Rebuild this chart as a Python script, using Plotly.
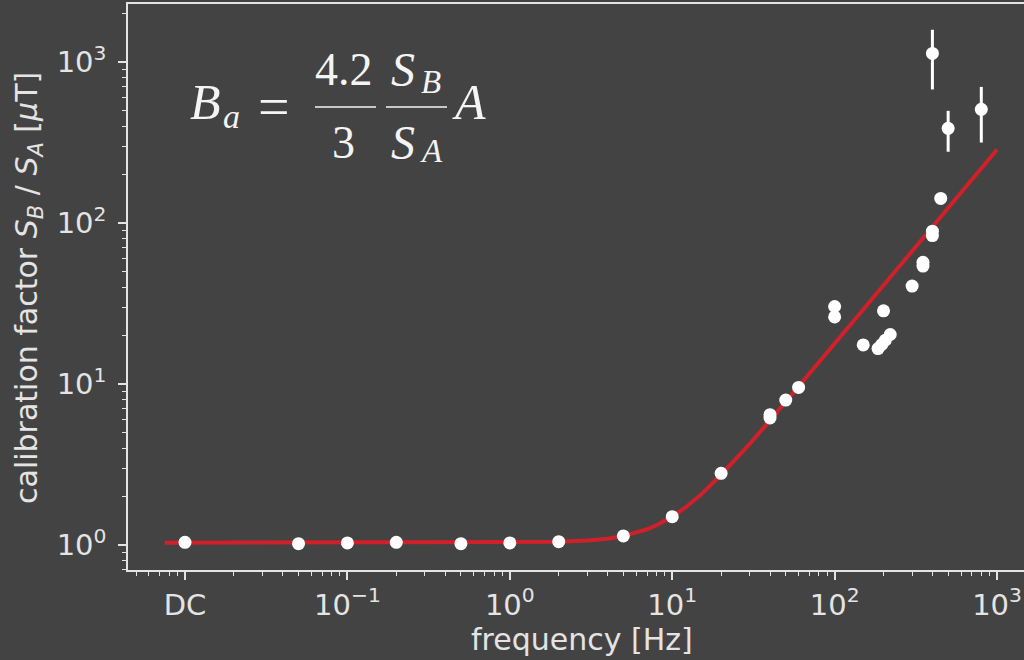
import plotly.graph_objects as go

# ---- measured calibration factor S_B / S_A (DC drawn at 0.01 Hz on the log axis) ----
DC_POS = 0.01
freq = [DC_POS, 0.05, 0.1, 0.2, 0.5, 1, 2, 5, 10, 20, 40, 40, 50, 60,
        100, 100, 150, 185, 195, 205, 220, 200, 300, 350, 350, 400, 400, 450,
        400, 500, 800]
factor = [1.04, 1.02, 1.03, 1.04, 1.02, 1.03, 1.05, 1.14, 1.50, 2.79, 6.15, 6.45, 7.95, 9.53,
          30.3, 26.1, 17.5, 16.6, 17.6, 18.7, 20.3, 28.5, 40.6, 57.0, 54.0, 89.0, 83.5, 142.0,
          1130.0, 387.0, 508.0]
factor_err = [0, 0, 0, 0, 0, 0, 0, 0, 0, 0, 0, 0, 0, 0,
              0, 0, 0, 0, 0, 0, 0, 0, 0, 0, 0, 0, 0, 0,
              455.0, 110.0, 192.0]

# ---- fitted model curve ----
model_freq = [0.0075, 0.01, 0.1, 1, 1.5, 2, 3, 4, 5, 6, 7, 8, 10, 12, 15, 20, 25, 30, 40, 50,
              70, 100, 150, 200, 300, 500, 700, 1000]
model_factor = [1.035, 1.035, 1.035, 1.037, 1.041, 1.047, 1.066, 1.095, 1.136, 1.189, 1.253,
                1.326, 1.50, 1.705, 2.05, 2.74, 3.45, 4.25, 5.95, 7.75, 11.6, 17.8, 29.0, 41.0,
                66.8, 123.8, 185.5, 286.0]

# ---- tick labels ----
x_tickvals = [DC_POS, 0.1, 1, 10, 100, 1000]
x_ticktext = ["DC", "10<sup>\u22121</sup>", "10<sup>0</sup>", "10<sup>1</sup>",
              "10<sup>2</sup>", "10<sup>3</sup>"]
y_tickvals = [1, 10, 100, 1000]
y_ticktext = ["10<sup>0</sup>", "10<sup>1</sup>", "10<sup>2</sup>", "10<sup>3</sup>"]

BG = "#434343"
FG = "#e4e4e4"
W, H = 1024, 660
ML, MR, MT, MB = 128, 0, 4, 90


def minor_ticks(lo_exp, hi_exp):
    return [m * 10 ** e for e in range(lo_exp, hi_exp + 1) for m in range(2, 10)]


fig = go.Figure()

fig.add_trace(go.Scatter(
    x=model_freq, y=model_factor, mode="lines",
    line=dict(color="#d0202a", width=4), hoverinfo="skip", showlegend=False,
))

fig.add_trace(go.Scatter(
    x=freq, y=factor, mode="markers",
    marker=dict(color="white", size=13, line=dict(width=0)),
    error_y=dict(type="data", array=factor_err, visible=True,
                 color="white", thickness=3, width=0),
    showlegend=False,
))

axis_common = dict(
    type="log", showgrid=False, zeroline=False,
    showline=True, linecolor=FG, linewidth=1.5,
    ticks="outside", ticklen=8, tickwidth=1.5, tickcolor=FG,
    tickfont=dict(family="DejaVu Sans", size=29, color=FG),
)

fig.update_xaxes(
    **axis_common, mirror=True, range=[-2.351, 3.166],
    tickmode="array", tickvals=x_tickvals, ticktext=x_ticktext,
    ticklabelstandoff=0,
    minor=dict(tickmode="array", tickvals=minor_ticks(-3, 2), ticks="outside",
               ticklen=4.5, tickwidth=1.2, tickcolor=FG, showgrid=False),
)
fig.update_yaxes(
    **axis_common, mirror=False, range=[-0.155, 3.36],
    tickmode="array", tickvals=y_tickvals, ticktext=y_ticktext,
    ticklabelstandoff=6,
    minor=dict(tickmode="array", tickvals=minor_ticks(-1, 3), ticks="outside",
               ticklen=4.5, tickwidth=1.2, tickcolor=FG, showgrid=False),
)


def px(x):
    return (x - ML) / (W - ML - MR)


def py(y):
    return (H - MB - y) / (H - MT - MB)


annotations = [
    dict(text="frequency [Hz]", x=px(581.5), y=py(639), textangle=0,
         font=dict(family="DejaVu Sans", size=30, color=FG)),
    dict(text="calibration factor <i>S<sub>B</sub></i> / <i>S<sub>A</sub></i> [<i>\u03bc</i>T]",
         x=px(28), y=py(288), textangle=-90,
         font=dict(family="DejaVu Sans", size=30, color=FG)),
]

# equation  B_a = (4.2 / 3) (S_B / S_A) A
EQ = "#f4f4f4"
SERIF = "Liberation Serif"
eq_parts = [
    ("<i>B</i>", 205, 101.5, 50),
    ("<i>a</i>", 231, 117, 34),
    ("=", 274, 107, 56),
    ("4.2", 344, 69, 46),
    ("3", 343, 142.5, 46),
    ("<i>S</i>", 403, 69, 48),
    ("<i>B</i>", 431, 82.5, 33),
    ("<i>S</i>", 403, 142.5, 48),
    ("<i>A</i>", 431, 151.5, 33),
    ("<i>A</i>", 469, 101.5, 50),
]
for txt, cx, cy, sz in eq_parts:
    annotations.append(dict(text=txt, x=px(cx), y=py(cy),
                            font=dict(family=SERIF, size=sz, color=EQ)))

for a in annotations:
    a.update(xref="paper", yref="paper", xanchor="center", yanchor="middle",
             showarrow=False)

shapes = [
    dict(type="line", xref="paper", yref="paper", x0=px(315), x1=px(376), y0=py(107), y1=py(107),
         line=dict(color=EQ, width=1.6)),
    dict(type="line", xref="paper", yref="paper", x0=px(386), x1=px(447), y0=py(107), y1=py(107),
         line=dict(color=EQ, width=1.6)),
]

fig.update_layout(
    width=W, height=H,
    margin=dict(l=ML, r=MR, t=MT, b=MB, pad=0),
    paper_bgcolor=BG, plot_bgcolor=BG,
    font=dict(family="DejaVu Sans", color=FG),
    annotations=annotations, shapes=shapes,
    showlegend=False,
)

fig.write_html("out.html")
